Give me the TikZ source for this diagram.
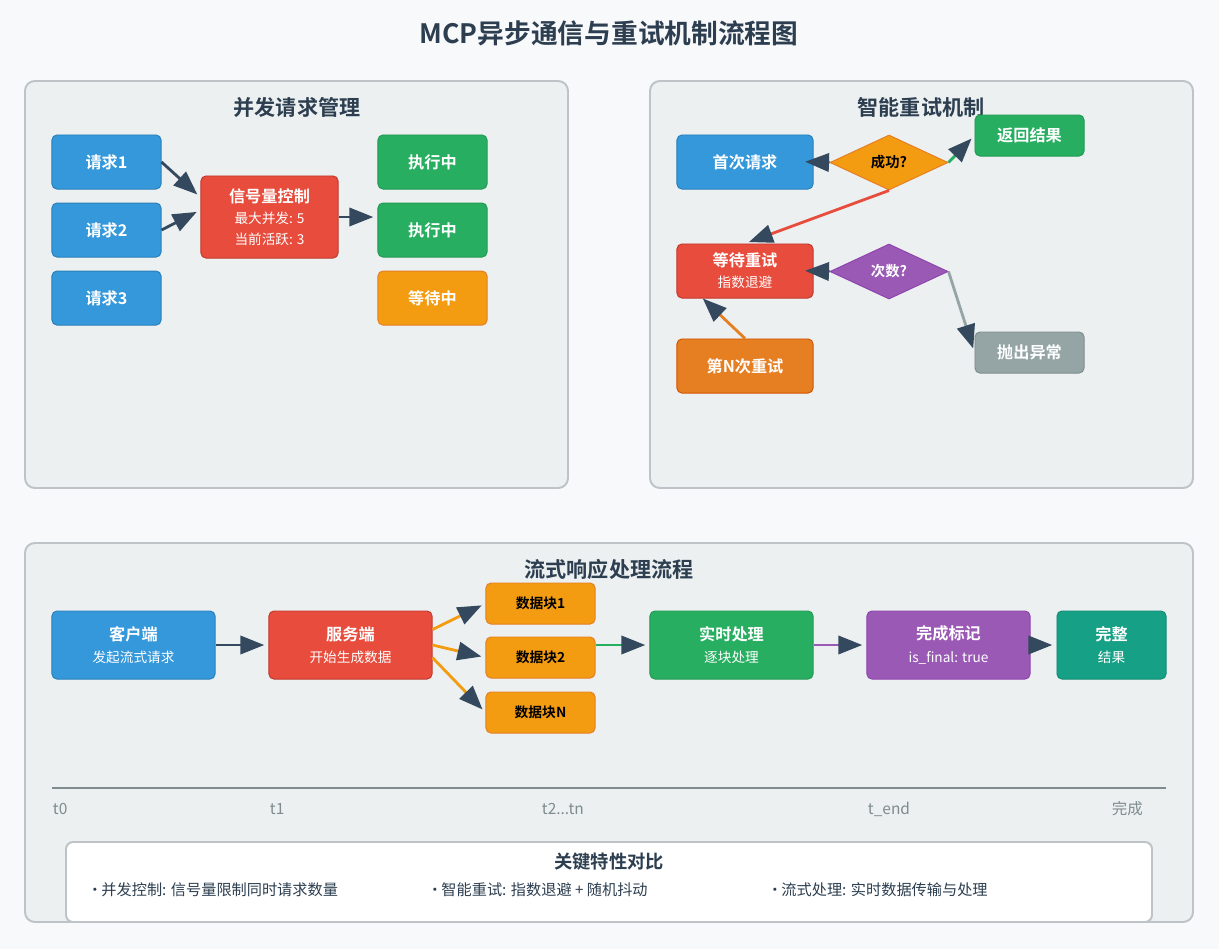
\documentclass[tikz,border=0pt]{standalone}
\usepackage{fontspec}
\setmainfont{Noto Sans CJK SC}[BoldFont={Noto Sans CJK SC Bold}]
\usepackage{xcolor}
\usetikzlibrary{arrows.meta,shapes.geometric}

\definecolor{pagebg}{HTML}{F8F9FA}
\definecolor{panelbg}{HTML}{ECF0F1}
\definecolor{panelline}{HTML}{BDC3C7}
\definecolor{ink}{HTML}{2C3E50}
\definecolor{arrowc}{HTML}{34495E}
\definecolor{cblue}{HTML}{3498DB}
\definecolor{cbluel}{HTML}{2980B9}
\definecolor{cred}{HTML}{E74C3C}
\definecolor{credl}{HTML}{C0392B}
\definecolor{cgreen}{HTML}{27AE60}
\definecolor{cgreenl}{HTML}{229954}
\definecolor{cyellow}{HTML}{F39C12}
\definecolor{cyellowl}{HTML}{E67E22}
\definecolor{corange}{HTML}{E67E22}
\definecolor{corangel}{HTML}{D35400}
\definecolor{cpurple}{HTML}{9B59B6}
\definecolor{cpurplel}{HTML}{8E44AD}
\definecolor{cgray}{HTML}{95A5A6}
\definecolor{cgrayl}{HTML}{7F8C8D}
\definecolor{cteal}{HTML}{16A085}
\definecolor{cteall}{HTML}{138D75}

\newcommand{\subtxt}[1]{{\fontsize{9.7}{12}\selectfont\mdseries #1}}
\newcommand{\keydot}{\kern-0.3em•\kern-0.3em\ }

\begin{document}
\begin{tikzpicture}[x=0.025cm,y=-0.025cm,>={Triangle[length=17pt,width=13pt,color=arrowc]},node distance=1.7cm,
    box/.style={draw,rounded corners=3.5pt,line width=0.7pt,text=white,align=center,inner sep=0pt,font=\fontsize{11.5}{14}\selectfont\bfseries,minimum width=2.725cm,minimum height=1.35cm},
    wide box/.style={box,minimum width=3.4cm},
    flow box/.style={box,minimum width=4.075cm,minimum height=1.7cm},
    chunk/.style={box,fill=cyellow,draw=cyellowl,text=black,minimum height=1.025cm,font=\fontsize{9.8}{12}\selectfont\bfseries},
    check/.style={diamond,draw,line width=0.7pt,inner sep=0pt,minimum width=2.95cm,minimum height=1.375cm,font=\fontsize{10.2}{12}\selectfont\bfseries},
    panel/.style={draw=panelline,fill=panelbg,line width=1.4pt,rounded corners=7pt},
    heading/.style={text=ink,font=\fontsize{15}{18}\selectfont\bfseries},
    tick label/.style={anchor=west,text=cgrayl,font=\fontsize{11}{13}\selectfont},
    key item/.style={anchor=west,text=ink,font=\fontsize{10.8}{13}\selectfont}]

    \fill[pagebg] (0,0) rectangle (1219,949);
    \useasboundingbox (0,0) rectangle (1219,949);

    \node[text=ink,font=\fontsize{19}{22}\selectfont\bfseries] (title) at (609,33) {MCP异步通信与重试机制流程图};

    % panels
    \draw[panel] (25,81) rectangle (568,488);
    \draw[panel] (650,81) rectangle (1193,488);
    \draw[panel] (25,543) rectangle (1193,922);
    \node[heading] (h1) at (297,107) {并发请求管理};
    \node[heading] (h2) at (921,107) {智能重试机制};
    \node[heading] (h3) at (609,569) {流式响应处理流程};

    % concurrent requests
    \node[box,fill=cblue,draw=cbluel] (req1) at (106.5,162) {请求1};
    \node[box,fill=cblue,draw=cbluel] (req2) [below of=req1] {请求2};
    \node[box,fill=cblue,draw=cbluel] (req3) [below of=req2] {请求3};
    \node[box,fill=cred,draw=credl,minimum width=3.425cm,minimum height=2.05cm] (sem) at (269.5,217)
        {信号量控制\\[1pt]\subtxt{最大并发: 5}\\[1pt]\subtxt{当前活跃: 3}};
    \node[box,fill=cgreen,draw=cgreenl] (run1) at (432.5,162) {执行中};
    \node[box,fill=cgreen,draw=cgreenl] (run2) [below of=run1] {执行中};
    \node[box,fill=cyellow,draw=cyellowl] (wait1) [below of=run2] {等待中};

    % retry
    \node[wide box,fill=cblue,draw=cbluel] (first) at (745,162) {首次请求};
    \node[check,fill=cyellow,draw=cyellowl,text=black] (ok) at (889,162.5) {成功?};
    \node[box,fill=cgreen,draw=cgreenl,minimum height=1.025cm] (back) at (1029.5,135.5) {返回结果};
    \node[wide box,fill=cred,draw=credl] (retry) at (745,271) {等待重试\\[1pt]\subtxt{指数退避}};
    \node[check,fill=cpurple,draw=cpurplel,text=white] (count) at (889,271.5) {次数?};
    \node[box,fill=cgray,draw=cgrayl,minimum height=1.025cm] (fail) at (1029.5,352.5) {抛出异常};
    \node[wide box,fill=corange,draw=corangel] (nth) at (745,366) {第N次重试};

    % streaming
    \node[flow box,fill=cblue,draw=cbluel] (client) at (133.5,645) {客户端\\[2pt]\subtxt{发起流式请求}};
    \node[flow box,fill=cred,draw=credl] (server) at (350.5,645) {服务端\\[2pt]\subtxt{开始生成数据}};
    \node[chunk] (c1) at (540.5,603.5) {数据块1};
    \node[chunk] (c2) at (540.5,657.5) {数据块2};
    \node[chunk] (cn) at (540.5,712.5) {数据块N};
    \node[flow box,fill=cgreen,draw=cgreenl] (live) at (731.5,645) {实时处理\\[2pt]\subtxt{逐块处理}};
    \node[flow box,fill=cpurple,draw=cpurplel] (mark) at (948.5,645) {完成标记\\[2pt]\subtxt{is\_final: true}};
    \node[box,fill=cteal,draw=cteall,minimum height=1.7cm] (whole) at (1111.5,645) {完整\\[2pt]\subtxt{结果}};

    \path[->,line width=2pt,shorten >=3pt]
        (req1.east) edge[draw=arrowc] ([yshift=14pt]sem.west)
        (req2.east) edge[draw=arrowc] ([yshift=5pt]sem.west)
        (sem.east) edge[draw=arrowc] (sem.east -| run2.west)

        (ok.west) edge[draw=arrowc,shorten >=-6pt] (first.east)
        (ok.east) edge[draw=cgreen] (back.west)
        (ok.south) edge[draw=cred] (retry.north)
        (count.west) edge[draw=arrowc,shorten >=-6pt] (retry.east)
        (count.east) edge[draw=cgray] (fail.west)
        (nth.north) edge[draw=corange,shorten >=0pt] ([xshift=-30pt]retry.south)

        (client.east) edge[draw=arrowc] (server.west)
        ([yshift=11pt]server.east) edge[draw=cyellow] (c1.west)
        (server.east) edge[draw=cyellow] (c2.west)
        ([yshift=-9pt]server.east) edge[draw=cyellow] (cn.west)
        (c2.east |- live.west) edge[draw=cgreen] (live.west)
        (live.east) edge[draw=cpurple] (mark.west)
        (mark.east) edge[draw=arrowc] (whole.west)
        ;

    % timeline
    \coordinate (tl0) at (52,788);
    \coordinate (tl1) at (1166,788);
    \draw[cgrayl,line width=1.4pt] (tl0) -- (tl1);
    \node[tick label] (t0) at (48,809) {t0};
    \node[tick label] (t1) at (265,809) {t1};
    \node[tick label] (t2) at (537,809) {t2...tn};
    \node[tick label] (t3) at (863,809) {t\_end};
    \node[tick label] (t4) at (1107,809) {完成};

    % legend
    \draw[draw=panelline,fill=white,line width=1.4pt,rounded corners=5pt] (66,842) rectangle (1152,922);
    \node[text=ink,font=\fontsize{13}{16}\selectfont\bfseries] (keyhead) at (609,862) {关键特性对比};
    \node[key item] (key1) at (87,890) {\keydot 并发控制: 信号量限制同时请求数量};
    \node[key item] (key2) at (427,890) {\keydot 智能重试: 指数退避 + 随机抖动};
    \node[key item] (key3) at (767,890) {\keydot 流式处理: 实时数据传输与处理};
\end{tikzpicture}
\end{document}
